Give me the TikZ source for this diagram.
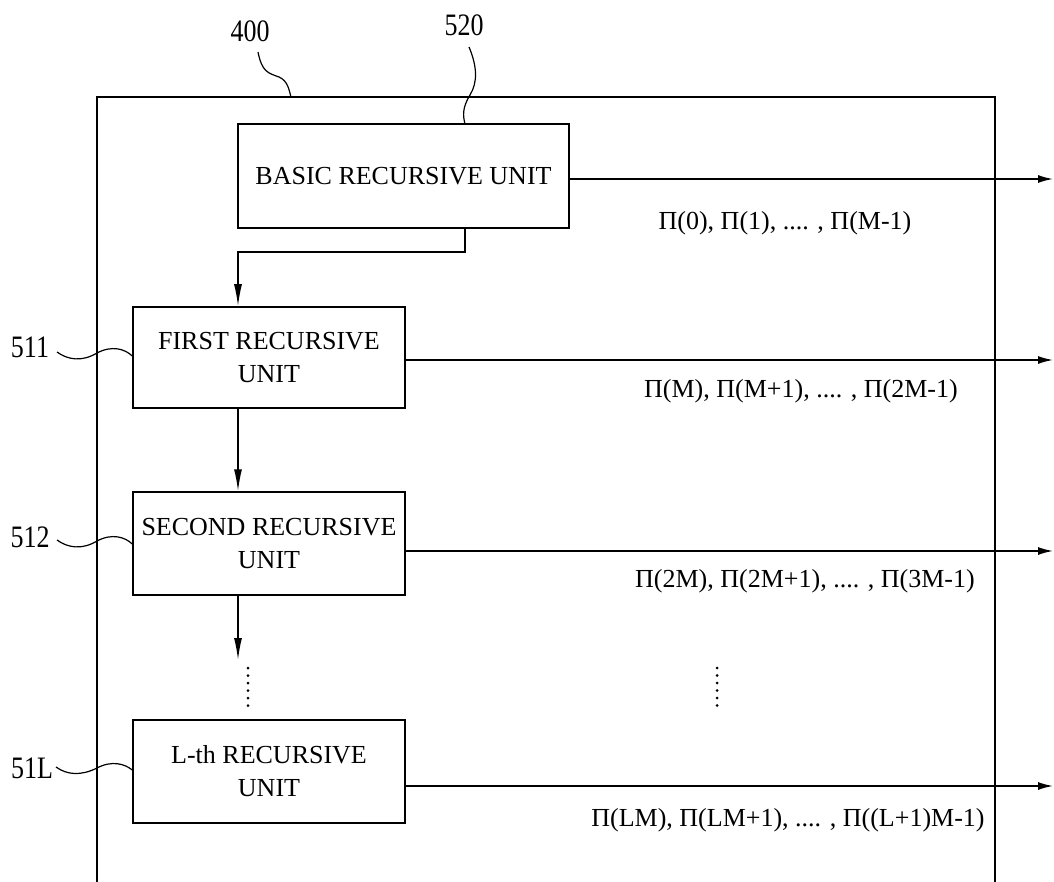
\documentclass[tikz,border=0pt]{standalone}
\usepackage{fontspec}
\setmainfont{Liberation Serif}
\usetikzlibrary{arrows.meta}
\tikzset{
  unitbox/.style={draw, line width=1.5pt, minimum width=272pt, minimum height=103pt, inner sep=0pt, align=center, font=\fontsize{26}{33}\selectfont},
  flow/.style={line width=1.5pt, -{Latex[length=15pt,width=8pt]}},
  down/.style={line width=1.5pt, -{Latex[length=22pt,width=8pt]}},
  plain/.style={line width=1.5pt},
  leader/.style={line width=1.2pt},
  seq/.style={font=\fontsize{26}{30}\selectfont, inner sep=0pt},
  refnum/.style={font=\fontsize{26}{30}\selectfont, inner sep=0pt},
  dotmark/.style={fill, circle, inner sep=0pt, minimum size=3pt}
}
\begin{document}
\begin{tikzpicture}[x=1pt,y=-1pt]
\useasboundingbox (0,0) rectangle (1054,882);
% outer block 400 (open at the bottom)
\coordinate (obl) at (97,882);
\coordinate (otl) at (97,97);
\coordinate (otr) at (995,97);
\coordinate (obr) at (995,882);
\draw[plain] (obl) -- (otl) -- (otr) -- (obr);

% unit boxes
\node[unitbox, minimum width=331pt, minimum height=104pt] (basic) at (403.5,176) {BASIC RECURSIVE UNIT};
\node[unitbox, minimum height=101pt] (first) at (269,357.5) {FIRST RECURSIVE\\UNIT};
\node[unitbox] (second) at (269,543.5) {SECOND RECURSIVE\\UNIT};
\node[unitbox] (lth) at (269,771.5) {L-th RECURSIVE\\UNIT};

% outputs
\coordinate (o1) at (1053,179);
\coordinate (o2) at (1053,360);
\coordinate (o3) at (1053,551);
\coordinate (o4) at (1053,786);
\draw[flow] (basic.east |- o1) -- (o1);
\draw[flow] (first.east |- o2) -- (o2);
\draw[flow] (second.east |- o3) -- (o3);
\draw[flow] (lth.east |- o4) -- (o4);

\node[seq] (s1) at (785,223) {Π(0), Π(1), .... , Π(M-1)};
\node[seq] (s2) at (801,391) {Π(M), Π(M+1), .... , Π(2M-1)};
\node[seq] (s3) at (805,581) {Π(2M), Π(2M+1), .... , Π(3M-1)};
\node[seq] (s4) at (788,820) {Π(LM), Π(LM+1), .... , Π((L+1)M-1)};

% vertical flow
\coordinate (b1) at (465,228);
\coordinate (b2) at (465,252);
\coordinate (b3) at (238,252);
\draw[down] (b1) -- (b2) -- (b3) -- (b3 |- first.north);
\draw[down] (first.south -| b3) -- (second.north -| b3);
\coordinate (d0) at (238,660);
\draw[down] (second.south -| b3) -- (d0);

% ellipsis dots
\foreach \i in {0,...,5} {
  \node[dotmark] (dl\i) at (248,668+7.5*\i) {};
  \node[dotmark] (dr\i) at (717,668+7.5*\i) {};
}

% reference numerals
\node[refnum] (r400) at (250,31) {\scalebox{1}[1.2]{400}};
\node[refnum] (r520) at (464,25) {\scalebox{1}[1.2]{520}};
\node[refnum] (r511) at (30,347) {\scalebox{1}[1.2]{511}};
\node[refnum] (r512) at (30,537) {\scalebox{1}[1.2]{512}};
\node[refnum] (r51L) at (32,768) {\scalebox{1}[1.2]{51L}};

% leaders
\coordinate (l400) at (258,52);
\draw[leader] (l400) .. controls (262,72) and (268,73) .. (279,77) .. controls (288,81) and (289,90) .. (291,97);
\coordinate (l520) at (469,47);
\draw[leader] (l520) .. controls (477,66) and (478,82) .. (470,95) .. controls (462,108) and (463,116) .. (465,124);
\coordinate (l511) at (57,352);
\draw[leader] (l511) .. controls (68,360) and (82,362) .. (97,353) .. controls (112,345) and (125,349) .. (first.west |- 0,356);
\coordinate (l512) at (57,540);
\draw[leader] (l512) .. controls (68,548) and (82,550) .. (97,541) .. controls (112,533) and (125,537) .. (second.west |- 0,544);
\coordinate (l51L) at (56,767);
\draw[leader] (l51L) .. controls (67,775) and (81,776) .. (97,768) .. controls (112,760) and (125,764) .. (lth.west |- 0,770);
\end{tikzpicture}
\end{document}
